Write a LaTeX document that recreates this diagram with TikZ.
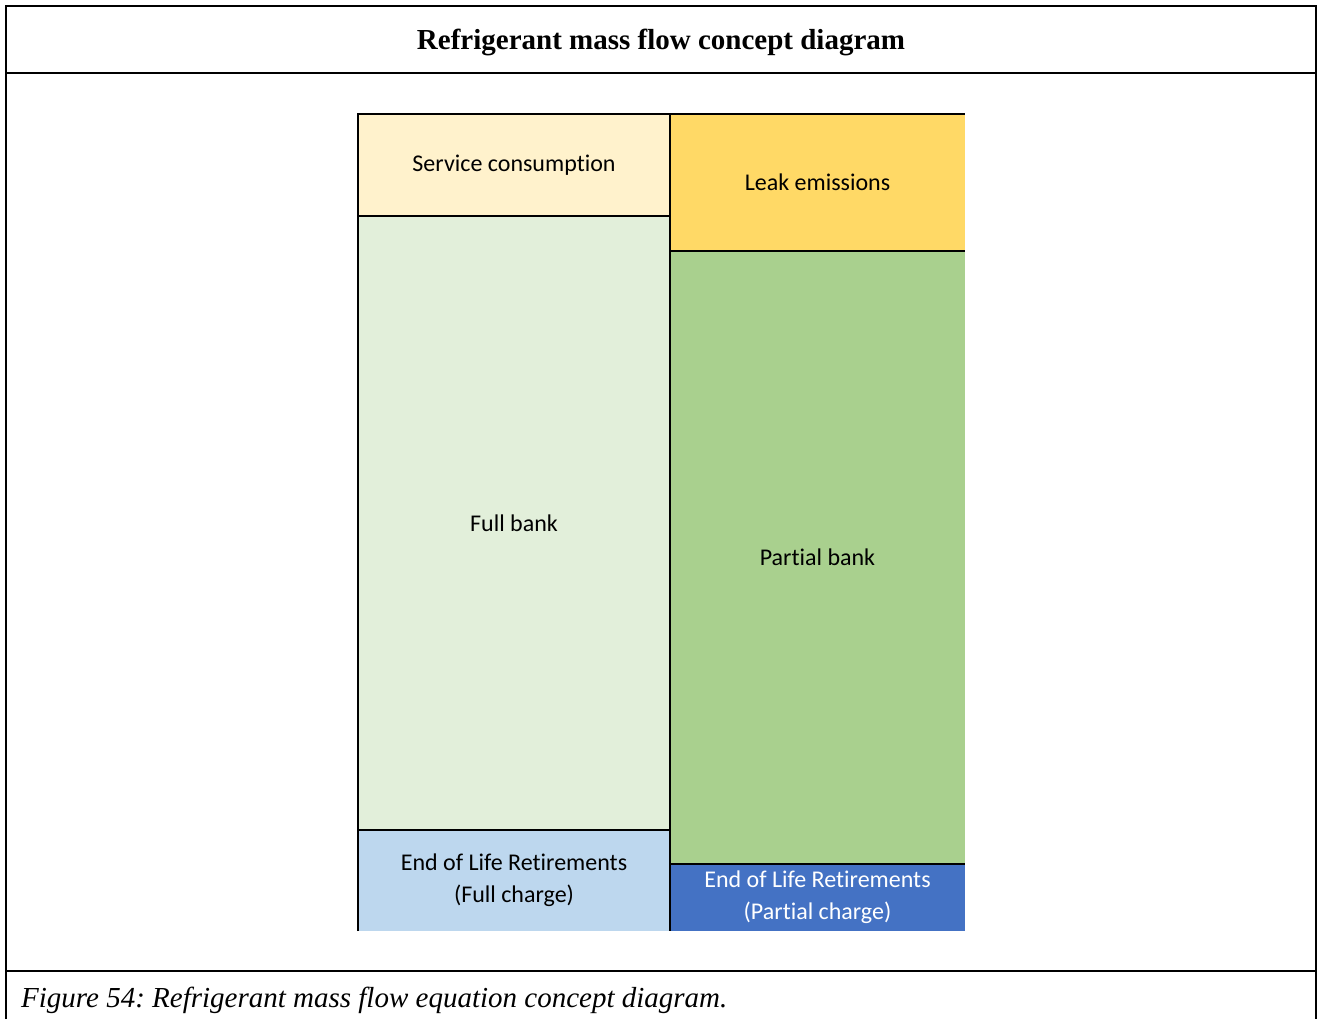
\documentclass[tikz,border=0pt]{standalone}
\usepackage{fontspec}
\setmainfont{Liberation Serif}
\newfontfamily\boxfont[Ligatures=NoCommon]{Carlito}
\usetikzlibrary{positioning}
\definecolor{servicecream}{HTML}{FFF2CC}
\definecolor{fullgreen}{HTML}{E2EFDA}
\definecolor{fullblue}{HTML}{BDD7EE}
\definecolor{leakyellow}{HTML}{FFD966}
\definecolor{partialgreen}{HTML}{A9D08E}
\definecolor{partialblue}{HTML}{4472C4}
\definecolor{ink}{HTML}{000000}
\frenchspacing

\begin{document}
\begin{tikzpicture}[
  x=1pt, y=-1pt,
  frame/.style={draw=ink, line width=2pt},
  edge/.style={draw=ink, line width=1.8pt},
  block/.style={anchor=north west, inner sep=0pt, outer sep=0pt, align=center,
    font=\boxfont\fontsize{24}{32}\selectfont, text=ink},
  leftblock/.style={block, minimum width=312pt},
  rightblock/.style={block, minimum width=295pt}
]
\useasboundingbox (0,0) rectangle (1321,1019);

% table frame
\draw[frame] (6,1019) -- (6,6) -- (1316,6) -- (1316,1019);
\draw[frame] (6,73) -- (1316,73);
\draw[frame] (6,971) -- (1316,971);

\node[font=\bfseries\fontsize{29}{34}\selectfont] (title) at (661,42)
  {Refrigerant mass flow concept diagram};
\node[anchor=west, inner sep=0pt, font=\itshape\fontsize{29}{34}\selectfont] (caption) at (21,1000)
  {Figure 54: Refrigerant mass flow equation concept diagram.};

% left column
\node[leftblock, fill=servicecream, minimum height=102pt] (service) at (358,114)
  {\raisebox{-2pt}{Service consumption}};
\node[leftblock, fill=fullgreen, minimum height=614pt, below=0pt of service.south west, anchor=north west] (fullbank)
  {Full bank};
\node[leftblock, fill=fullblue, minimum height=101pt, below=0pt of fullbank.south west, anchor=north west] (eolfull)
  {End of Life Retirements\\(Full charge)};

% right column
\node[rightblock, fill=leakyellow, minimum height=137pt] (leak) at (670,114)
  {Leak emissions};
\node[rightblock, fill=partialgreen, minimum height=613pt, below=0pt of leak.south west, anchor=north west] (partialbank)
  {Partial bank};
\node[rightblock, fill=partialblue, minimum height=67pt, text=white, below=0pt of partialbank.south west, anchor=north west] (eolpartial)
  {End of Life Retirements\\(Partial charge)};

% borders
\draw[edge] (eolfull.south west) -- (service.north west) -- (leak.north east);
\draw[edge] (leak.north west) -- (eolpartial.south west);
\draw[edge] (service.south west) -- (service.south east);
\draw[edge] (fullbank.south west) -- (fullbank.south east);
\draw[edge] (leak.south west) -- (leak.south east);
\draw[edge] (partialbank.south west) -- (partialbank.south east);

\end{tikzpicture}
\end{document}
